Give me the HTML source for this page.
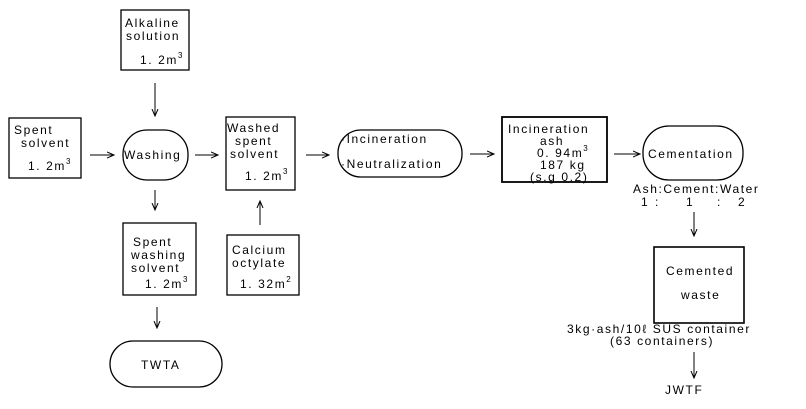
<!DOCTYPE html>
<html><head><meta charset="utf-8"><style>
body{margin:0;background:#fff;}
svg{display:block;}
text{font-family:"Liberation Sans",sans-serif;font-size:12px;fill:#000;letter-spacing:1.6px;}
.s{font-size:8px;letter-spacing:0;}
</style></head><body>
<svg width="806" height="409" viewBox="0 0 806 409" xmlns="http://www.w3.org/2000/svg">
<defs><marker id="a" markerWidth="8" markerHeight="8" refX="7" refY="4" orient="auto" markerUnits="userSpaceOnUse"><path d="M0,1 L7,4 L0,7" fill="none" stroke="#000" stroke-width="1"/></marker></defs>
<g fill="none" stroke="#000" stroke-width="1.3">
<rect x="121" y="10" width="68" height="60"/>
<rect x="9" y="118" width="72" height="60"/>
<rect x="123" y="130" width="65" height="50" rx="24"/>
<rect x="226" y="117" width="69" height="73"/>
<rect x="338" y="130" width="124" height="47" rx="23"/>
<rect x="502" y="117" width="105" height="65" stroke-width="1.8"/>
<rect x="643" y="126" width="100" height="54" rx="26"/>
<rect x="654" y="247" width="90" height="76" stroke-width="1.6"/>
<rect x="123" y="223" width="73" height="72"/>
<rect x="227" y="235" width="72" height="60"/>
<rect x="110" y="341" width="112" height="46" rx="23"/>
</g>
<g stroke="#000" stroke-width="1" marker-end="url(#a)">
<line x1="90" y1="155" x2="114" y2="155"/>
<line x1="155" y1="83" x2="155" y2="116"/>
<line x1="195" y1="155" x2="218" y2="155"/>
<line x1="306" y1="155" x2="329" y2="155"/>
<line x1="470" y1="154" x2="494" y2="154"/>
<line x1="614" y1="154" x2="640" y2="154"/>
<line x1="155" y1="190" x2="155" y2="210"/>
<line x1="260" y1="225" x2="260" y2="201"/>
<line x1="157" y1="307" x2="157" y2="328"/>
<line x1="694" y1="212" x2="694" y2="236"/>
<line x1="694" y1="352" x2="694" y2="378"/>
</g>
<text x="125" y="27">Alkaline</text>
<text x="126" y="40">solution</text>
<text x="140" y="64">1. 2m<tspan class="s" dy="-6">3</tspan></text>
<text x="14" y="134">Spent</text>
<text x="21" y="147">solvent</text>
<text x="28" y="170">1. 2m<tspan class="s" dy="-6">3</tspan></text>
<text x="124" y="159">Washing</text>
<text x="227" y="132">Washed</text>
<text x="235" y="145">spent</text>
<text x="230" y="158">solvent</text>
<text x="245" y="180">1. 2m<tspan class="s" dy="-6">3</tspan></text>
<text x="341" y="143">·Incineration</text>
<text x="341" y="168">·Neutralization</text>
<text x="508" y="133" letter-spacing="1.2">Incineration</text>
<text x="540" y="145">ash</text>
<text x="537" y="157">0. 94m<tspan class="s" dy="-6">3</tspan></text>
<text x="540" y="169">187 kg</text>
<text x="530" y="181">(s.g 0.2)</text>
<text x="648" y="158">Cementation</text>
<text x="633" y="193" letter-spacing="0.6">Ash:Cement:Water</text>
<text x="641" y="206">1</text>
<text x="655" y="206">:</text>
<text x="686" y="206">1</text>
<text x="717" y="206">:</text>
<text x="738" y="206">2</text>
<text x="666" y="275">Cemented</text>
<text x="681" y="299">waste</text>
<text x="567" y="333" letter-spacing="1">3kg·ash/10ℓ SUS container</text>
<text x="610" y="345" letter-spacing="1">(63 containers)</text>
<text x="665" y="394" letter-spacing="2" font-size="14">JWTF</text>
<text x="133" y="246">Spent</text>
<text x="131" y="259">washing</text>
<text x="131" y="272">solvent</text>
<text x="145" y="288">1. 2m<tspan class="s" dy="-6">3</tspan></text>
<text x="232" y="254">Calcium</text>
<text x="232" y="267">octylate</text>
<text x="240" y="288">1. 32m<tspan class="s" dy="-6">2</tspan></text>
<text x="141" y="369" letter-spacing="2" font-size="13">TWTA</text>
</svg>
</body></html>
